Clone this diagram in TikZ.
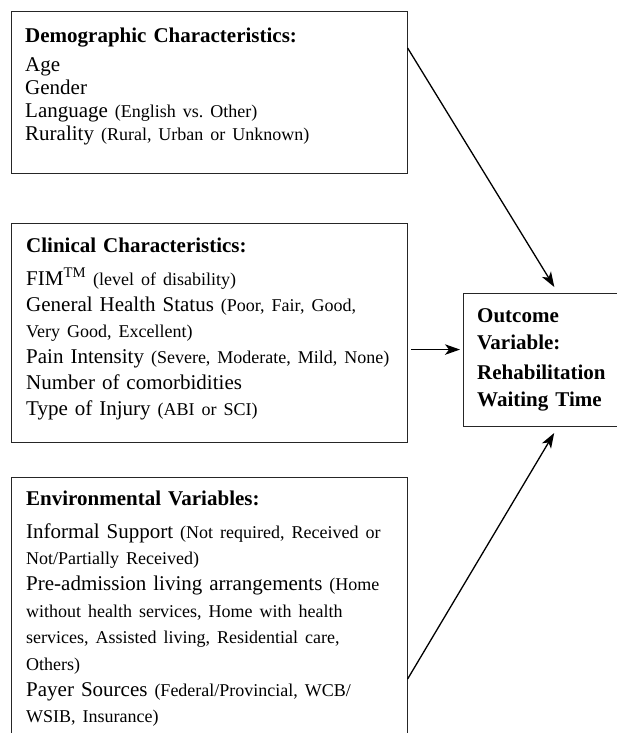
\documentclass[tikz,border=0pt]{standalone}
\usepackage{fontspec}
\setmainfont{Liberation Serif}
\usetikzlibrary{positioning,arrows.meta}
\frenchspacing
\newcommand{\cats}[1]{{\fontsize{18bp}{18bp}\selectfont #1}}
\tikzset{
  varbox/.style  = {rectangle, draw=black!85, line width=1.1bp,
                    anchor=north west, inner sep=0pt},
  vartext/.style = {anchor=base west, inner sep=0pt, align=left,
                    text width=380bp, font=\fontsize{21bp}{#1}\selectfont},
  arr/.style     = {-{Stealth[length=15bp,width=10.5bp,inset=4bp]}, line width=1.3bp}
}
\begin{document}
\begin{tikzpicture}[x=1bp, y=-1bp]
    \useasboundingbox (0,0) rectangle (617,733);
    \clip (0,0) rectangle (617,733);
    % Rahmen
    \node[varbox, minimum width=395.5bp, minimum height=162bp] (demo) at (11,11) {};
    \node[varbox, minimum width=395.5bp, minimum height=219bp] (clin) at (11,223) {};
    \node[varbox, minimum width=395.5bp, minimum height=280bp] (env) at (11,477) {};
    \node[varbox, minimum width=180bp, minimum height=132.5bp] (outcome) at (463,293) {};
    % Texte
    \node[vartext=22.7bp] (demotext) at ([shift={(14,32)}]demo.north west)
      {\textbf{Demographic Characteristics:}\\[6.3bp]
       Age\\
       Gender\\
       Language \cats{(English vs. Other)}\\
       Rurality \cats{(Rural, Urban or Unknown)}};
    \node[vartext=26bp] (clintext) at ([shift={(15,29)}]clin.north west)
      {\textbf{Clinical Characteristics:}\\[7bp]
       FIM\textsuperscript{TM} \cats{(level of disability)}\\
       General Health Status \cats{(Poor, Fair, Good,}\\
       \cats{Very Good, Excellent)}\\
       Pain Intensity \cats{(Severe, Moderate, Mild, None)}\\
       Number of comorbidities\\
       Type of Injury \cats{(ABI or SCI)}};
    \node[vartext=26.4bp] (envtext) at ([shift={(15,28)}]env.north west)
      {\textbf{Environmental Variables:}\\[6.6bp]
       Informal Support \cats{(Not required, Received or}\\
       \cats{Not/Partially Received)}\\
       Pre-admission living arrangements \cats{(Home}\\
       \cats{without health services, Home with health}\\
       \cats{services, Assisted living, Residential care,}\\
       \cats{Others)}\\
       Payer Sources \cats{(Federal/Provincial, WCB/}\\
       \cats{WSIB, Insurance)}};
    \node[vartext=27bp, text width=140bp] (outtext) at ([shift={(14,29)}]outcome.north west)
      {\bfseries Outcome\\
       Variable:\\[3bp]
       Rehabilitation\\
       Waiting Time};
    % Pfeile zum Ergebnis
    \coordinate (mid) at ([yshift=-16.5bp]clin.east);
    \draw[arr, shorten >=7bp] ([yshift=-37bp]demo.north east) -- ([xshift=95bp]outcome.north west);
    \draw[arr, shorten <=3.5bp, shorten >=3bp] (mid) -- (mid -| outcome.west);
    \draw[arr, shorten >=7.5bp] ([yshift=-202bp]env.north east) -- ([xshift=95bp]outcome.south west);
\end{tikzpicture}
\end{document}
